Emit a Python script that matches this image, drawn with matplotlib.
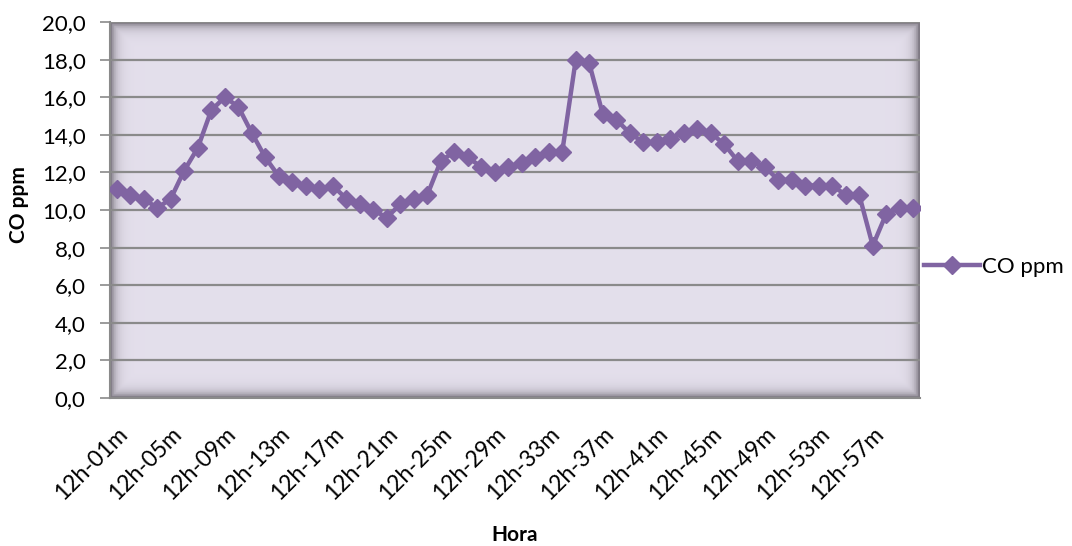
# CO concentration per minute, Excel-style line chart
import numpy as np
import matplotlib
matplotlib.use('Agg')
import matplotlib.pyplot as plt
from matplotlib.ticker import FuncFormatter

minutes = [f'12h-{m:02d}m' for m in range(1, 61)]
co_ppm = [11.1, 10.8, 10.6, 10.1, 10.6, 12.1, 13.3, 15.3, 16.0, 15.5,
          14.1, 12.8, 11.8, 11.5, 11.3, 11.1, 11.3, 10.6, 10.3, 10.0,
          9.6, 10.3, 10.6, 10.8, 12.6, 13.1, 12.8, 12.3, 12.0, 12.3,
          12.5, 12.8, 13.1, 13.1, 18.0, 17.8, 15.1, 14.8, 14.1, 13.6,
          13.6, 13.8, 14.1, 14.3, 14.1, 13.5, 12.6, 12.6, 12.3, 11.6,
          11.6, 11.3, 11.3, 11.3, 10.8, 10.8, 8.1, 9.8, 10.1, 10.1]
y_ticks = np.arange(0, 21, 2)

purple = '#8064A2'
plt.rcParams['font.family'] = ['Lato', 'DejaVu Sans']

fig = plt.figure(figsize=(10.72, 5.46), dpi=100)
ax = fig.add_axes([110 / 1072, 1 - 398 / 546, 810 / 1072, 376 / 546])

# lavender fill with an inner shadow toward the edges
h, w = 200, 400
yy, xx = np.mgrid[0:h, 0:w]
dist = np.minimum.reduce([xx / w * 810, (w - 1 - xx) / w * 810,
                          yy / h * 376, (h - 1 - yy) / h * 376])
shade = np.exp(-dist / 5.0)
base = np.array([0.894, 0.875, 0.925])
dark = np.array([0.50, 0.48, 0.52])
img = base[None, None, :] * (1 - shade[..., None]) + dark[None, None, :] * shade[..., None]
ax.imshow(img, extent=[0, 1, 0, 1], transform=ax.transAxes, aspect='auto', zorder=0)

x = np.arange(len(co_ppm))
ax.plot(x, co_ppm, color=purple, lw=3.2, marker='D', markersize=9,
        label='CO ppm', zorder=3, solid_joinstyle='round')

ax.set_xlim(-0.5, len(co_ppm) - 0.5)
ax.set_ylim(0, 20)
ax.set_yticks(y_ticks)
ax.yaxis.set_major_formatter(FuncFormatter(lambda v, p: f'{v:.1f}'.replace('.', ',')))
ax.grid(axis='y', color='#8a8a8a', lw=1.6, zorder=1)
ax.set_axisbelow(True)

ax.set_xticks(x[::4])
ax.set_xticklabels(minutes[::4], rotation=45, ha='right', rotation_mode='anchor')
ax.tick_params(axis='x', length=0, pad=18, labelsize=16.5)
ax.tick_params(axis='y', length=7.5, width=1.2, color='#8a8a8a', pad=10, labelsize=16)

for side in ['top', 'right']:
    ax.spines[side].set_visible(False)
for side in ['left', 'bottom']:
    ax.spines[side].set_color('#8a8a8a')
    ax.spines[side].set_linewidth(1.5)

ax.set_ylabel('CO ppm', fontsize=15, fontweight='bold')
ax.yaxis.set_label_coords(19 / 1072, 1 - 205 / 546, transform=fig.transFigure)
ax.set_xlabel('Hora', fontsize=15, fontweight='bold')
ax.xaxis.set_label_coords(515 / 1072, 1 - 535 / 546, transform=fig.transFigure)
ax.xaxis.label.set_va('center')
ax.yaxis.label.set_va('center')

fig.legend(loc='center left', bbox_to_anchor=(924 / 1072, 1 - 267 / 546),
           frameon=False, fontsize=16, borderpad=0, borderaxespad=0,
           handlelength=2.5, handletextpad=0.1)

fig.savefig('out.png', dpi=100)
